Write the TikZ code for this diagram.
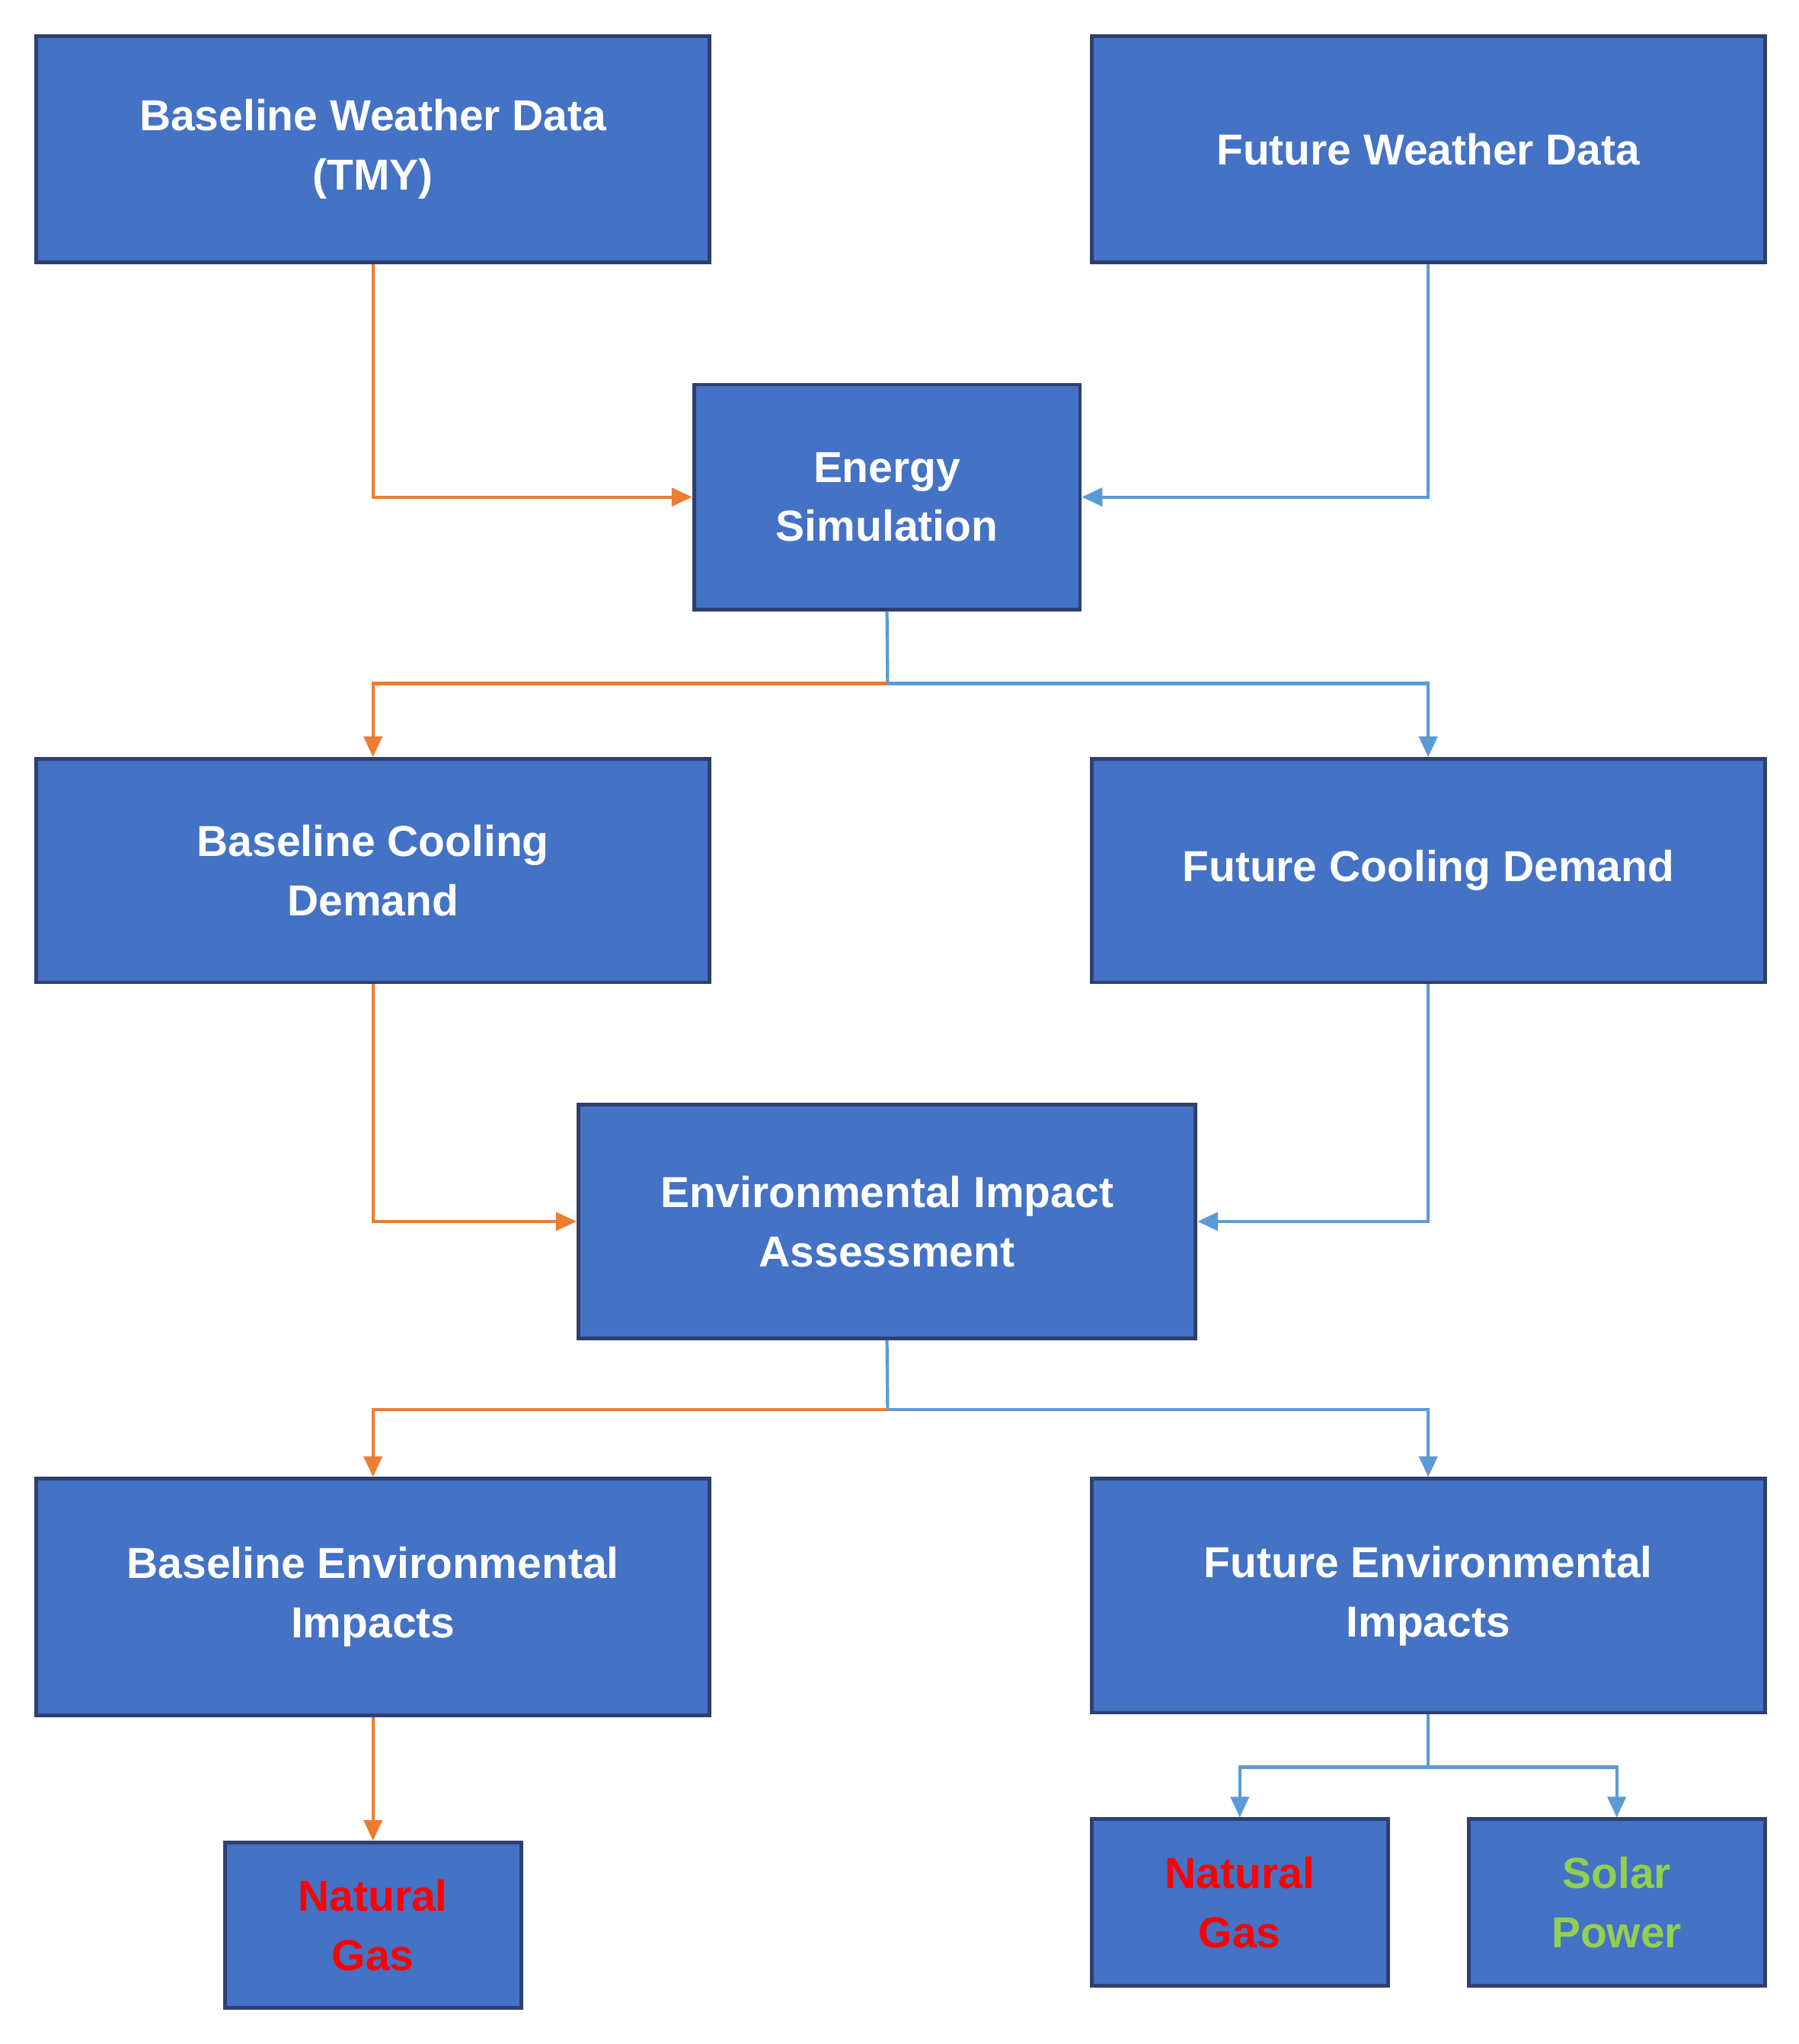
\documentclass[tikz,border=0pt]{standalone}
\usepackage{fontspec}
\setmainfont{Liberation Sans}
\usetikzlibrary{arrows.meta}
\definecolor{boxfill}{HTML}{4472C4}
\definecolor{boxline}{HTML}{2F3F6F}
\definecolor{orng}{HTML}{ED7D31}
\definecolor{blu}{HTML}{5B9BD5}
\definecolor{ngred}{HTML}{FF0000}
\definecolor{spgreen}{HTML}{92D050}
\begin{document}
\begin{tikzpicture}[x=0.02cm,y=-0.02cm,
  box/.style={draw=boxline,line width=1.6pt,fill=boxfill,text=white,align=center,
    font=\fontsize{19}{26}\selectfont\bfseries,inner sep=0pt},
  oa/.style={draw=orng,line width=1.4pt,-{Triangle[length=9pt,width=8pt]}},
  ba/.style={draw=blu,line width=1.4pt,-{Triangle[length=9pt,width=8pt]}},
  ol/.style={draw=orng,line width=1.4pt},
  bl/.style={draw=blu,line width=1.4pt}]
\useasboundingbox (0,0) rectangle (1384,1573);
\newcommand{\bx}[6]{\node[box,minimum width={(#4-#2)*0.02cm},minimum height={(#5-#3)*0.02cm}] (#1) at ({(#2+#4)/2},{(#3+#5)/2}) {#6};}
\bx{bwd}{28}{28}{546}{202}{Baseline Weather Data\\(TMY)}
\bx{fwd}{840}{28}{1358}{202}{Future Weather Data}
\bx{es}{534}{296}{831}{469}{Energy\\Simulation}
\bx{bcd}{28}{584}{546}{756}{Baseline Cooling\\Demand}
\bx{fcd}{840}{584}{1358}{756}{Future Cooling Demand}
\bx{eia}{445}{850}{920}{1030}{Environmental Impact\\Assessment}
\bx{bei}{28}{1138}{546}{1320}{Baseline Environmental\\Impacts}
\bx{fei}{840}{1138}{1358}{1318}{Future Environmental\\Impacts}
\bx{ng1}{173}{1418}{401}{1545}{\textcolor{ngred}{Natural}\\\textcolor{ngred}{Gas}}
\bx{ng2}{840}{1400}{1068}{1528}{\textcolor{ngred}{Natural}\\\textcolor{ngred}{Gas}}
\bx{sp}{1130}{1400}{1358}{1528}{\textcolor{spgreen}{Solar}\\\textcolor{spgreen}{Power}}
\coordinate (j1) at (683,526);
\coordinate (j2) at (683,1085);
\coordinate (j3) at (1099,1360);
\draw[oa] (bwd.south) |- (es.west);
\draw[ba] (fwd.south) |- (es.east);
\draw[bl] (es.south) -- (j1);
\draw[oa] (j1) -| (bcd.north);
\draw[ba] (j1) -| (fcd.north);
\draw[oa] (bcd.south) |- (eia.west);
\draw[ba] (fcd.south) |- (eia.east);
\draw[bl] (eia.south) -- (j2);
\draw[oa] (j2) -| (bei.north);
\draw[ba] (j2) -| (fei.north);
\draw[oa] (bei.south) -- (ng1.north);
\draw[bl] (fei.south) -- (j3);
\draw[ba] (j3) -| (ng2.north);
\draw[ba] (j3) -| (sp.north);
\end{tikzpicture}
\end{document}
